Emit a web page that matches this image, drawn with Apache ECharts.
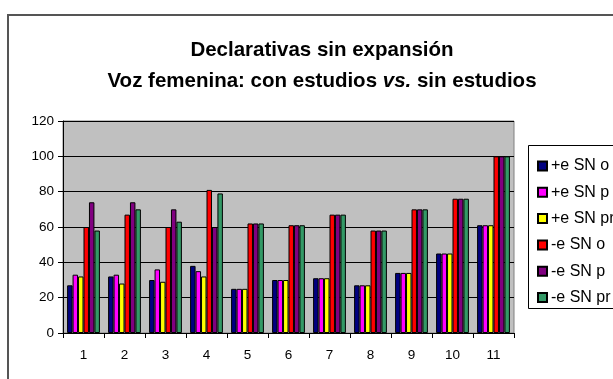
<!DOCTYPE html>
<html>
<head>
<meta charset="utf-8">
<script src="https://cdn.jsdelivr.net/npm/echarts@6/dist/echarts.min.js"></script>
<style>
  html, body { margin: 0; padding: 0; background: #fff; }
  #chart { width: 613px; height: 379px; }
</style>
</head>
<body>
<div id="chart"></div>
<script>
// Categories along the x axis
const categories = ['1', '2', '3', '4', '5', '6', '7', '8', '9', '10', '11'];

// Series names (legend) and values
const seriesNames = ['+e SN o', '+e SN p', '+e SN pr', '-e SN o', '-e SN p', '-e SN pr'];
const posSNo  = [27, 32, 30, 38, 25, 30, 31, 27, 34, 45, 61];
const posSNp  = [33, 33, 36, 35, 25, 30, 31, 27, 34, 45, 61];
const posSNpr = [32, 28, 29, 32, 25, 30, 31, 27, 34, 45, 61];
const negSNo  = [60, 67, 60, 81, 62, 61, 67, 58, 70, 76, 100];
const negSNp  = [74, 74, 70, 60, 62, 61, 67, 58, 70, 76, 100];
const negSNpr = [58, 70, 63, 79, 62, 61, 67, 58, 70, 76, 100];

// Y axis tick values
const yTicks = [0, 20, 40, 60, 80, 100, 120];

const seriesValues = [posSNo, posSNp, posSNpr, negSNo, negSNp, negSNpr];
const colors = ['#000080', '#ff00ff', '#ffff00', '#ff0000', '#800080', '#339966'];

const font = 'Liberation Sans, Arial, sans-serif';
const chart = echarts.init(document.getElementById('chart'), null, { renderer: 'canvas' });

chart.setOption({
  animation: false,
  backgroundColor: '#ffffff',
  title: {
    text: 'Declarativas sin expansión\nVoz femenina: con estudios {i|vs.} sin estudios',
    left: 317,
    textAlign: 'center',
    top: 30,
    textStyle: {
      fontFamily: font,
      fontSize: 20.5,
      fontWeight: 'bold',
      color: '#000',
      lineHeight: 31,
      rich: {
        i: { fontFamily: font, fontSize: 20.5, fontWeight: 'bold', fontStyle: 'italic', color: '#000', lineHeight: 31 }
      }
    }
  },
  graphic: [
    {
      type: 'rect',
      shape: { x: 8, y: 15, width: 700, height: 500 },
      style: { fill: 'none', stroke: '#555', lineWidth: 2 },
      z: -1
    },
    {
      type: 'rect',
      shape: { x: 528.5, y: 145.5, width: 200, height: 163 },
      style: { fill: '#fff', stroke: '#000', lineWidth: 1 },
      z: 0
    }
  ],
  legend: {
    orient: 'vertical',
    left: 532,
    top: 152,
    itemWidth: 9,
    itemHeight: 9,
    itemGap: 8.3,
    icon: 'rect',
    data: seriesNames,
    textStyle: { fontFamily: font, fontSize: 16, color: '#000', lineHeight: 18, padding: [0, 0, 0, -1] },
    z: 5
  },
  grid: { left: 63, top: 121, right: 99, bottom: 46, show: true, backgroundColor: '#c0c0c0', borderColor: '#808080', borderWidth: 1 },
  xAxis: {
    type: 'category',
    data: categories,
    axisLine: { lineStyle: { color: '#000', width: 1 } },
    axisTick: { show: true, alignWithLabel: false, length: 5, lineStyle: { color: '#000' } },
    axisLabel: { fontFamily: font, fontSize: 13.5, color: '#000', margin: 15 }
  },
  yAxis: {
    type: 'value',
    min: yTicks[0],
    max: yTicks[yTicks.length - 1],
    interval: 20,
    axisLine: { show: true, lineStyle: { color: '#000', width: 1 } },
    axisTick: { show: true, length: 5, lineStyle: { color: '#000' } },
    axisLabel: { fontFamily: font, fontSize: 13.5, color: '#000', margin: 9 },
    splitLine: { show: true, lineStyle: { color: '#000', width: 1 } }
  },
  series: seriesNames.map((name, i) => ({
    name,
    type: 'bar',
    data: seriesValues[i],
    barGap: '0%',
    barCategoryGap: '20%',
    itemStyle: { color: colors[i], borderColor: '#000', borderWidth: 1 }
  }))
});
</script>
</body>
</html>
